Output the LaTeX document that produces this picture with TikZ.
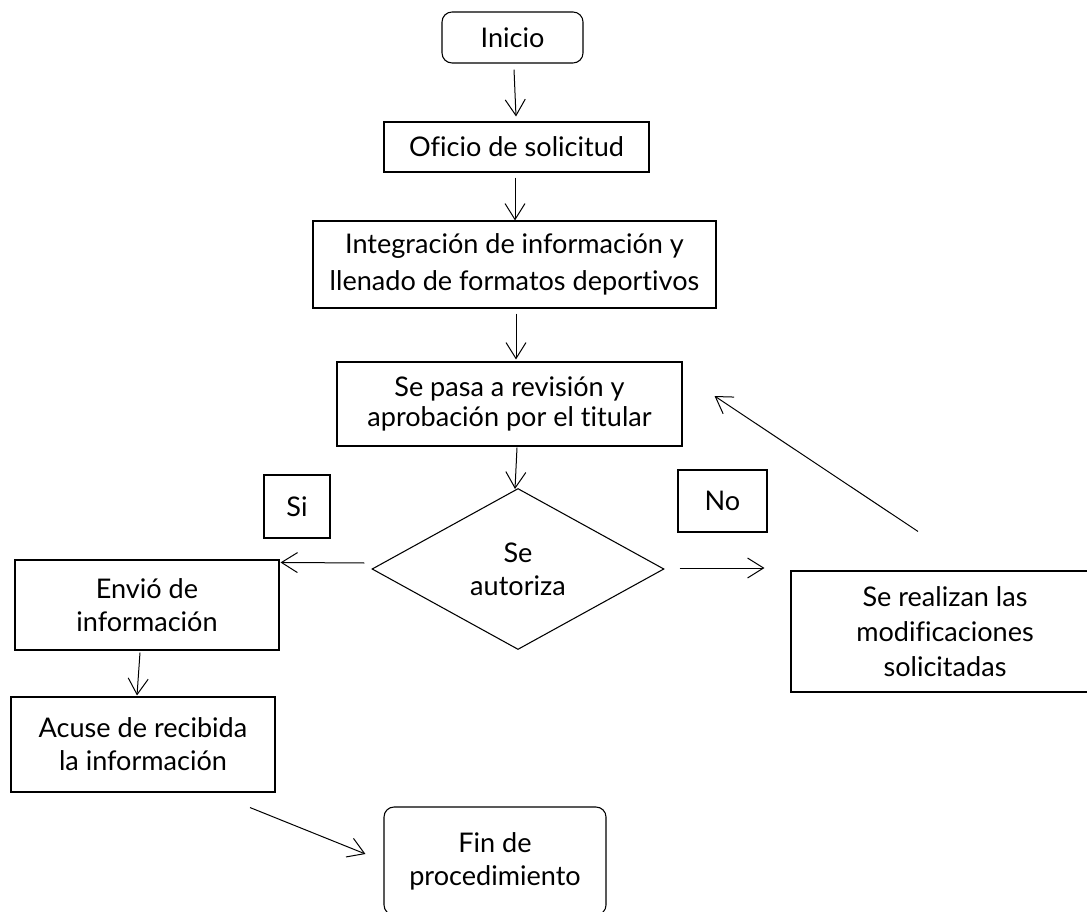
\documentclass[tikz,border=0pt]{standalone}
\usepackage{fontspec}
\setmainfont{Lato}[Ligatures={NoCommon,NoRequired,NoContextual}]
\usetikzlibrary{shapes.geometric,arrows.meta}
\begin{document}
\begin{tikzpicture}[x=0.75pt,y=-0.75pt,
  every node/.style={font=\fontsize{20.3}{24.75}\selectfont, text=black},
  box/.style={draw=black, line width=0.8pt, inner sep=0pt, align=center},
  rbox/.style={box, rounded corners=7.5pt},
  dec/.style={draw=black, line width=0.8pt, diamond, inner sep=0pt, align=center},
  arr/.style={draw=black, line width=0.75pt, -{Straight Barb[length=12pt,width=15pt]}}
]
\useasboundingbox (0,0) rectangle (1087,912);

\node[rbox, minimum width=105.75pt, minimum height=38.25pt] (inicio) at (512.5,37.5) {Inicio};
\node[box, minimum width=198.75pt, minimum height=37.5pt] (oficio) at (516.5,147) {Oficio de solicitud};
\node[box, minimum width=302.25pt, minimum height=65.25pt, font=\fontsize{20.3}{27.75}\selectfont] (integ) at (514.5,264.5) {Integración de información y\\llenado de formatos deportivos};
\node[box, minimum width=258.75pt, minimum height=63pt, font=\fontsize{20.3}{22}\selectfont] (revision) at (509.5,404) {Se pasa a revisión y\\aprobación por el titular};
\node[dec, minimum width=219pt, minimum height=120.75pt] (autoriza) at (518,569) {Se\\autoriza};
\node[box, minimum width=49.5pt, minimum height=47.25pt] (si) at (297,506.5) {Si};
\node[box, minimum width=66.75pt, minimum height=46.5pt] (no) at (722.5,501) {No};
\node[box, minimum width=198pt, minimum height=67.5pt] (envio) at (147,605) {Envió de\\información};
\node[box, minimum width=198pt, minimum height=71.25pt] (acuse) at (143,744.5) {Acuse de recibida\\la información};
\node[rbox, minimum width=166.5pt, minimum height=81pt] (fin) at (495,861) {Fin de\\procedimiento};
\node[box, minimum width=231pt, minimum height=90.75pt, font=\fontsize{20.3}{26}\selectfont] (realizan) at (945,631.5) {Se realizan las\\modificaciones\\solicitadas};

\draw[arr] ([shift={(1.5,6)}]inicio.south) -- ([shift={(-0.5,-5)}]oficio.north);
\draw[arr] ([shift={(-1.5,5)}]oficio.south) -- ([shift={(0.5,0)}]integ.north);
\draw[arr] ([shift={(1.5,5)}]integ.south) -- ([shift={(6.5,-2)}]revision.north);
\draw[arr] ([shift={(7.5,1)}]revision.south) -- ([shift={(-3,1)}]autoriza.north);
\draw[arr] ([shift={(-7,-6)}]autoriza.west) -- ([shift={(1,3)}]envio.north east);
\draw[arr] ([shift={(15,-1)}]autoriza.east) -- ([shift={(-26,-63.5)}]realizan.west);
\draw[arr] ([shift={(-27,-39)}]realizan.north) -- ([shift={(32,-8)}]revision.east);
\draw[arr] ([shift={(-7,2)}]envio.south) -- ([shift={(-6,-1)}]acuse.north);
\draw[arr] ([shift={(107,15)}]acuse.south) -- ([shift={(-18,-7)}]fin.west);
\end{tikzpicture}
\end{document}
